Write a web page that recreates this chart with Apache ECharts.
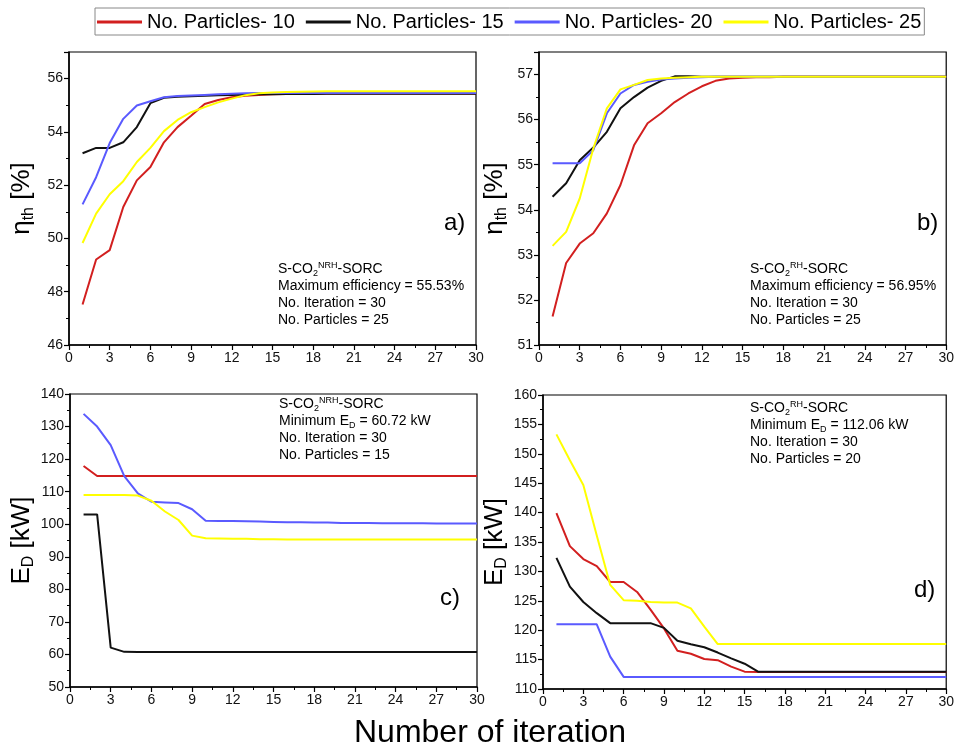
<!DOCTYPE html>
<html>
<head>
<meta charset="utf-8">
<script src="https://cdn.jsdelivr.net/npm/echarts@6/dist/echarts.min.js"></script>
<style>
  html, body { margin: 0; background: #fff; }
  #chart { width: 957px; height: 755px; }
</style>
</head>
<body>
<div id="chart"></div>
<script>
const iterations = [1,2,3,4,5,6,7,8,9,10,11,12,13,14,15,16,17,18,19,20,21,22,23,24,25,26,27,28,29,30]
const names = ['No. Particles- 10', 'No. Particles- 15', 'No. Particles- 20', 'No. Particles- 25']
const colors = ['#d21f1f', '#111111', '#5a5aff', '#ffff00']

// a) thermal efficiency, S-CO2 NRH
const a10 = [47.52,49.21,49.56,51.18,52.18,52.68,53.61,54.18,54.61,55.05,55.20,55.30,55.36,55.39,55.41,55.42,55.43,55.43,55.44,55.44,55.44,55.44,55.44,55.44,55.44,55.44,55.44,55.44,55.44,55.44]
const a15 = [53.20,53.40,53.40,53.61,54.18,55.08,55.28,55.32,55.34,55.36,55.38,55.39,55.40,55.41,55.41,55.42,55.42,55.42,55.43,55.43,55.43,55.43,55.43,55.43,55.43,55.43,55.43,55.43,55.43,55.43]
const a20 = [51.28,52.30,53.58,54.49,54.99,55.15,55.30,55.35,55.37,55.39,55.41,55.43,55.45,55.46,55.46,55.46,55.46,55.46,55.46,55.46,55.46,55.46,55.46,55.46,55.46,55.46,55.46,55.46,55.46,55.46]
const a25 = [49.83,50.93,51.66,52.15,52.87,53.40,54.03,54.45,54.74,54.93,55.11,55.25,55.38,55.45,55.48,55.50,55.51,55.52,55.53,55.53,55.53,55.53,55.53,55.53,55.53,55.53,55.53,55.53,55.53,55.53]

// b) thermal efficiency, S-CO2 RH
const b10 = [51.63,52.82,53.25,53.48,53.92,54.55,55.43,55.92,56.14,56.39,56.58,56.74,56.86,56.91,56.93,56.94,56.94,56.95,56.95,56.95,56.95,56.95,56.95,56.95,56.95,56.95,56.95,56.95,56.95,56.95]
const b15 = [54.29,54.59,55.10,55.38,55.73,56.25,56.50,56.71,56.86,56.96,56.96,56.95,56.95,56.95,56.95,56.95,56.95,56.95,56.95,56.95,56.95,56.95,56.95,56.95,56.95,56.95,56.95,56.95,56.95,56.95]
const b20 = [55.03,55.03,55.03,55.32,56.14,56.58,56.77,56.84,56.89,56.91,56.93,56.94,56.95,56.95,56.95,56.95,56.95,56.95,56.95,56.95,56.95,56.95,56.95,56.95,56.95,56.95,56.95,56.95,56.95,56.95]
const b25 = [53.20,53.51,54.25,55.36,56.25,56.67,56.77,56.88,56.91,56.93,56.94,56.95,56.95,56.95,56.95,56.95,56.95,56.95,56.95,56.95,56.95,56.95,56.95,56.95,56.95,56.95,56.95,56.95,56.95,56.95]

// c) exergy destruction, S-CO2 NRH
const c10 = [117.9,114.8,114.8,114.8,114.8,114.8,114.8,114.8,114.8,114.8,114.8,114.8,114.8,114.8,114.8,114.8,114.8,114.8,114.8,114.8,114.8,114.8,114.8,114.8,114.8,114.8,114.8,114.8,114.8,114.8]
const c15 = [103.0,103.0,62.1,60.8,60.72,60.72,60.72,60.72,60.72,60.72,60.72,60.72,60.72,60.72,60.72,60.72,60.72,60.72,60.72,60.72,60.72,60.72,60.72,60.72,60.72,60.72,60.72,60.72,60.72,60.72]
const c20 = [133.9,130.0,124.3,114.8,109.5,106.9,106.7,106.5,104.6,101.1,101.0,101.0,100.9,100.8,100.7,100.6,100.6,100.5,100.5,100.4,100.4,100.4,100.3,100.3,100.3,100.3,100.2,100.2,100.2,100.2]
const c25 = [109.0,109.0,109.0,109.0,108.8,107.2,103.9,101.3,96.5,95.7,95.6,95.5,95.5,95.4,95.4,95.3,95.3,95.3,95.3,95.3,95.3,95.3,95.3,95.3,95.3,95.3,95.3,95.3,95.3,95.3]

// d) exergy destruction, S-CO2 RH
const d10 = [139.9,134.3,132.1,130.9,128.2,128.2,126.5,123.5,120.3,116.5,116.0,115.1,114.9,113.8,112.95,112.9,112.9,112.9,112.9,112.9,112.9,112.9,112.9,112.9,112.9,112.9,112.9,112.9,112.9,112.9]
const d15 = [132.3,127.4,124.8,122.9,121.2,121.2,121.2,121.2,120.4,118.2,117.6,117.1,116.2,115.2,114.3,112.95,112.95,112.95,112.95,112.95,112.95,112.95,112.95,112.95,112.95,112.95,112.95,112.95,112.95,112.95]
const d20 = [121.0,121.0,121.0,121.0,115.5,112.06,112.06,112.06,112.06,112.06,112.06,112.06,112.06,112.06,112.06,112.06,112.06,112.06,112.06,112.06,112.06,112.06,112.06,112.06,112.06,112.06,112.06,112.06,112.06,112.06]
const d25 = [153.3,148.9,144.7,136.1,127.7,125.1,125.0,124.8,124.7,124.7,123.7,120.6,117.65,117.65,117.65,117.65,117.65,117.65,117.65,117.65,117.65,117.65,117.65,117.65,117.65,117.65,117.65,117.65,117.65,117.65]

const xTicks = { min: 0, max: 30, interval: 3 }
const yAxesCfg = [
  { min: 46, max: 57, interval: 2, name: '{m|η}{s|th}{m| [%]}', gap: 32 },
  { min: 51, max: 57.5, interval: 1, name: '{m|η}{s|th}{m| [%]}', gap: 29 },
  { min: 50, max: 140, interval: 10, name: '{m|E}{s|D}{m| [kW]}', gap: 33 },
  { min: 110, max: 160, interval: 5, name: '{m|E}{s|D}{m| [kW]}', gap: 33 },
]
const FONT = 'Liberation Sans, Arial, sans-serif'

const chart = echarts.init(document.getElementById('chart'))

const grids = [
  { left: 69, top: 52, width: 407, height: 293 },
  { left: 539, top: 52, width: 408, height: 293 },
  { left: 70, top: 394, width: 407, height: 293 },
  { left: 543, top: 395, width: 408, height: 294 },
].map((g) => ({ ...g, show: true, borderColor: '#000', borderWidth: 1.2, backgroundColor: 'transparent' }))

const xAxes = grids.map((_, i) => ({
  type: 'value',
  gridIndex: i,
  ...xTicks,
  axisLine: { lineStyle: { color: '#000', width: 1.5 } },
  axisTick: { length: 5, lineStyle: { color: '#000', width: 1.2 } },
  minorTick: { show: true, splitNumber: 2, length: 3, lineStyle: { color: '#000', width: 1 } },
  splitLine: { show: false },
  axisLabel: { color: '#111', fontSize: 14, fontFamily: FONT, margin: 6 },
}))

const yAxes = yAxesCfg.map((c, i) => ({
  type: 'value',
  gridIndex: i,
  min: c.min,
  max: c.max,
  interval: c.interval,
  name: c.name,
  nameLocation: 'middle',
  nameRotate: 90,
  nameGap: c.gap,
  nameTextStyle: {
    fontFamily: FONT,
    rich: {
      m: { fontSize: 26, color: '#000', fontFamily: FONT, lineHeight: 30 },
      s: { fontSize: 16, color: '#000', fontFamily: FONT, verticalAlign: 'bottom', lineHeight: 30 },
    },
  },
  axisLine: { show: true, lineStyle: { color: '#000', width: 1.5 } },
  axisTick: { show: true, length: 5, lineStyle: { color: '#000', width: 1.2 } },
  minorTick: { show: true, splitNumber: 2, length: 3, lineStyle: { color: '#000', width: 1 } },
  splitLine: { show: false },
  axisLabel: { color: '#111', fontSize: 14, fontFamily: FONT, margin: 6, showMaxLabel: (c.max - c.min) % c.interval === 0 },
}))

const panels = [[a10, a15, a20, a25], [b10, b15, b20, b25], [c10, c15, c20, c25], [d10, d15, d20, d25]]
const series = []
panels.forEach((group, gi) => {
  group.forEach((vals, k) => {
    series.push({
      name: names[k],
      type: 'line',
      xAxisIndex: gi,
      yAxisIndex: gi,
      data: iterations.map((it, j) => [it, vals[j]]),
      symbol: 'none',
      lineStyle: { color: colors[k], width: 2 },
      itemStyle: { color: colors[k] },
      animation: false,
    })
  })
})

const noteRich = {
  t: { fontSize: 14, fontFamily: FONT, color: '#111', lineHeight: 17 },
  sub: { fontSize: 9, fontFamily: FONT, color: '#111', verticalAlign: 'bottom', lineHeight: 17 },
  sup: { fontSize: 9, fontFamily: FONT, color: '#111', verticalAlign: 'top', lineHeight: 17 },
}
function note(left, top, lines) {
  return { type: 'text', left, top, style: { text: lines.join('\n'), rich: noteRich } }
}
function tag(left, top, text) {
  return { type: 'text', left, top, style: { text, fontSize: 24, fontFamily: FONT, fill: '#000' } }
}

chart.setOption({
  backgroundColor: '#fff',
  animation: false,
  textStyle: { fontFamily: FONT },
  title: {
    text: 'Number of iteration',
    left: 354,
    top: 717,
    padding: 0,
    textStyle: { fontSize: 32, fontWeight: 'normal', color: '#000', fontFamily: FONT },
  },
  legend: {
    data: names,
    left: 95,
    top: 8,
    padding: [4, 3, 3, 2],
    itemGap: 11,
    icon: 'rect',
    itemWidth: 45,
    itemHeight: 3,
    borderColor: '#888',
    borderWidth: 1,
    textStyle: { fontSize: 20, color: '#000', fontFamily: FONT },
  },
  grid: grids,
  xAxis: xAxes,
  yAxis: yAxes,
  series,
  graphic: [
    note(278, 261, ['{t|S-CO}{sub|2}{sup|NRH}{t|-SORC}', '{t|Maximum efficiency = 55.53%}', '{t|No. Iteration = 30}', '{t|No. Particles = 25}']),
    note(750, 261, ['{t|S-CO}{sub|2}{sup|RH}{t|-SORC}', '{t|Maximum efficiency = 56.95%}', '{t|No. Iteration = 30}', '{t|No. Particles = 25}']),
    note(279, 396, ['{t|S-CO}{sub|2}{sup|NRH}{t|-SORC}', '{t|Minimum E}{sub|D}{t| = 60.72 kW}', '{t|No. Iteration = 30}', '{t|No. Particles = 15}']),
    note(750, 400, ['{t|S-CO}{sub|2}{sup|RH}{t|-SORC}', '{t|Minimum E}{sub|D}{t| = 112.06 kW}', '{t|No. Iteration = 30}', '{t|No. Particles = 20}']),
    tag(444, 211, 'a)'),
    tag(917, 211, 'b)'),
    tag(440, 586, 'c)'),
    tag(914, 578, 'd)'),
  ],
})
</script>
</body>
</html>
